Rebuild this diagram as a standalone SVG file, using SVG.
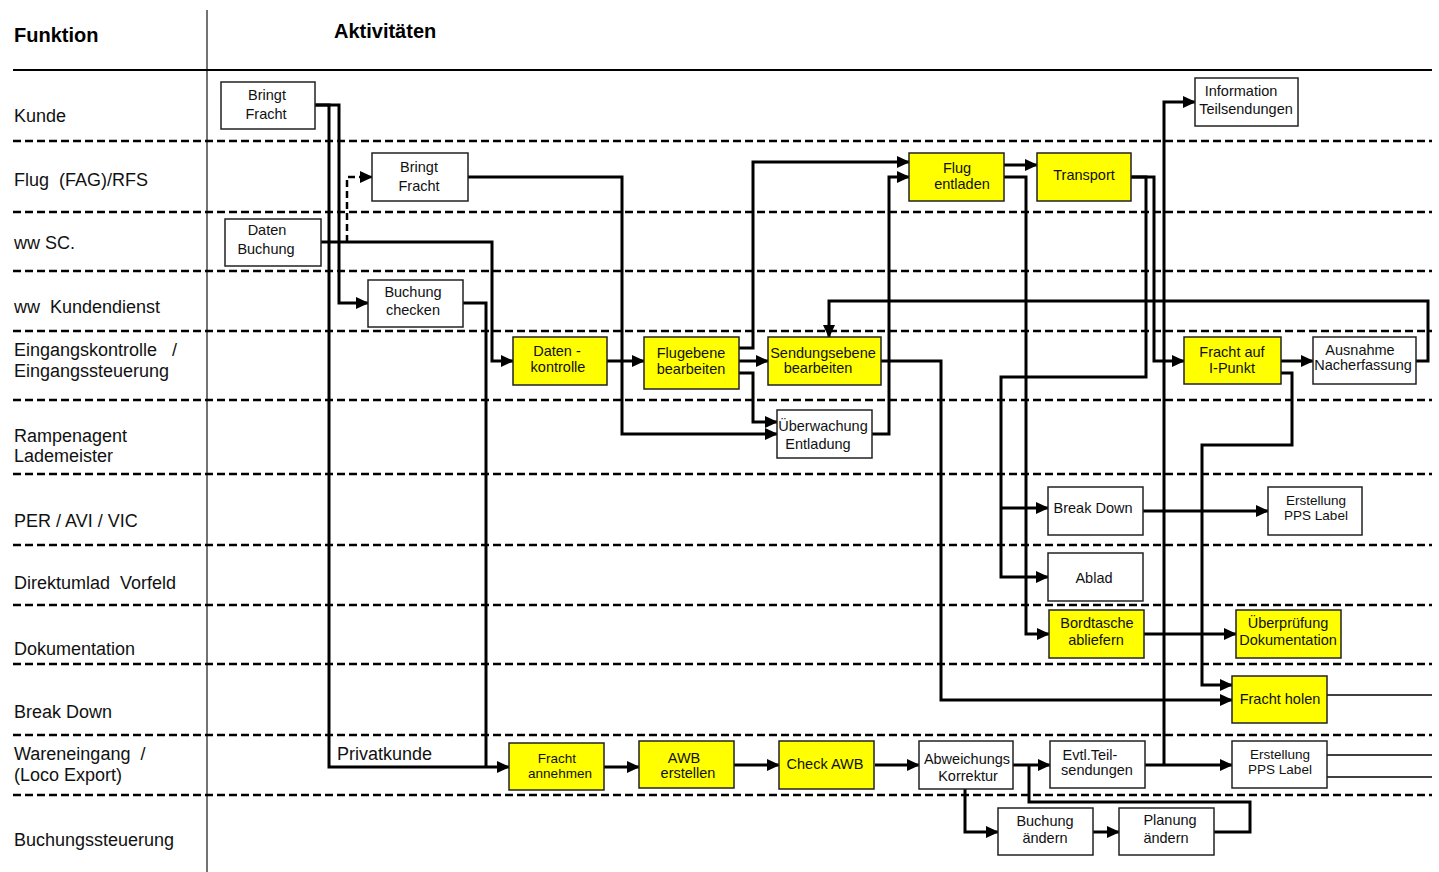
<svg xmlns="http://www.w3.org/2000/svg" width="1439" height="872" viewBox="0 0 1439 872">
<style>
.bg{fill:#fff}
.box{fill:#fff;stroke:#222;stroke-width:1.5}
.y{fill:#ffff00}
.t{font-family:"Liberation Sans",Arial,sans-serif;font-size:14.5px;text-anchor:middle;fill:#111}
.s{font-size:13.5px}
.lane{font-family:"Liberation Sans",Arial,sans-serif;font-size:18px;fill:#111;white-space:pre}
.hd{font-family:"Liberation Sans",Arial,sans-serif;font-size:20px;font-weight:bold;fill:#000}
.dl{stroke:#000;stroke-width:2.5;stroke-dasharray:8 4;fill:none}
.c{fill:none;stroke:#000;stroke-width:3;marker-end:url(#a)}
.cn{fill:none;stroke:#000;stroke-width:3}
.th{fill:none;stroke:#000;stroke-width:1.5}
.cd{fill:none;stroke:#000;stroke-width:2.5;stroke-dasharray:7 4;marker-end:url(#a)}
</style>
<defs>
<marker id="a" viewBox="0 0 13 12" markerWidth="13" markerHeight="12" refX="12" refY="6" orient="auto" markerUnits="userSpaceOnUse">
<path d="M0,0 L13,6 L0,12 Z" fill="#000" stroke="none"/>
</marker>
</defs>
<rect class="bg" x="0" y="0" width="1439" height="872"/>

<g id="lanes">
<line x1="207" y1="10" x2="207" y2="872" stroke="#444" stroke-width="1.5"/>
<line x1="13" y1="70" x2="1432" y2="70" stroke="#000" stroke-width="2"/>
<line class="dl" x1="13" y1="141" x2="1432" y2="141"/>
<line class="dl" x1="13" y1="212" x2="1432" y2="212"/>
<line class="dl" x1="13" y1="271" x2="1432" y2="271"/>
<line class="dl" x1="13" y1="331" x2="1432" y2="331"/>
<line class="dl" x1="13" y1="400" x2="1432" y2="400"/>
<line class="dl" x1="13" y1="474" x2="1432" y2="474"/>
<line class="dl" x1="13" y1="545" x2="1432" y2="545"/>
<line class="dl" x1="13" y1="605" x2="1432" y2="605"/>
<line class="dl" x1="13" y1="664" x2="1432" y2="664"/>
<line class="dl" x1="13" y1="735" x2="1432" y2="735"/>
<line class="dl" x1="13" y1="795" x2="1432" y2="795"/>
<text class="hd" x="14" y="42">Funktion</text>
<text class="hd" x="334" y="38">Aktivitäten</text>
<text class="lane" x="14" y="122">Kunde</text>
<text class="lane" x="14" y="186">Flug  (FAG)/RFS</text>
<text class="lane" x="14" y="249">ww SC.</text>
<text class="lane" x="14" y="313">ww  Kundendienst</text>
<text class="lane" x="14" y="356">Eingangskontrolle   /</text>
<text class="lane" x="14" y="377">Eingangssteuerung</text>
<text class="lane" x="14" y="442">Rampenagent</text>
<text class="lane" x="14" y="462">Lademeister</text>
<text class="lane" x="14" y="527">PER / AVI / VIC</text>
<text class="lane" x="14" y="589">Direktumlad  Vorfeld</text>
<text class="lane" x="14" y="655">Dokumentation</text>
<text class="lane" x="14" y="718">Break Down</text>
<text class="lane" x="14" y="760">Wareneingang  /</text>
<text class="lane" x="14" y="781">(Loco Export)</text>
<text class="lane" x="14" y="846">Buchungssteuerung</text>
<text class="lane" x="337" y="760">Privatkunde</text>
</g>

<g id="connectors">
<path class="c" d="M315,105 H339 V303 H368"/>
<path class="c" d="M315,105 H329 V767 H509"/>
<path class="cn" d="M463,303 H486 V767"/>
<path class="cd" d="M347,242 V177 H372"/>
<path class="c" d="M321,242 H492 V361 H513"/>
<path class="c" d="M468,177 H622 V434 H777"/>
<path class="c" d="M607,361 H644"/>
<path class="c" d="M739,361 H768"/>
<path class="c" d="M739,348 H753 V162 H909"/>
<path class="c" d="M739,373 H753 V422 H777"/>
<path class="c" d="M872,434 H889 V177 H909"/>
<path class="c" d="M881,361 H941 V700 H1232"/>
<path class="c" d="M1004,165 H1037"/>
<path class="c" d="M1004,177 H1026 V634 H1049"/>
<path class="c" d="M1131,177 H1146 V377 H1001 V577 H1048"/>
<path class="c" d="M1001,508 H1048"/>
<path class="c" d="M1131,177 H1154 V361 H1184"/>
<path class="c" d="M1145,765 H1232"/>
<path class="c" d="M1164,765 V102 H1195"/>
<path class="c" d="M1281,361 H1313"/>
<path class="c" d="M1416,361 H1428 V301 H829 V337"/>
<path class="c" d="M1281,373 H1292 V445 H1202 V685 H1232"/>
<path class="c" d="M1143,511 H1268"/>
<path class="c" d="M1144,634 H1236"/>
<path class="th" d="M1327,695 H1432"/>
<path class="th" d="M1327,755 H1432"/>
<path class="th" d="M1327,777 H1432"/>
<path class="c" d="M604,767 H639"/>
<path class="c" d="M734,765 H779"/>
<path class="c" d="M875,765 H919"/>
<path class="c" d="M1013,765 H1050"/>
<path class="cn" d="M1214,832 H1250 V802 H1029 V765"/>
<path class="c" d="M965,788 V832 H998"/>
<path class="c" d="M1093,832 H1119"/>
</g>

<g id="n-bringt-kunde"><rect class="box" x="221" y="82" width="94" height="47"/><text class="t" x="267" y="100">Bringt</text><text class="t" x="266" y="119">Fracht</text></g>
<g id="n-bringt-flug"><rect class="box" x="372" y="153" width="96" height="48"/><text class="t" x="419" y="172">Bringt</text><text class="t" x="419" y="191">Fracht</text></g>
<g id="n-daten-buchung"><rect class="box" x="225" y="219" width="96" height="47"/><text class="t" x="267" y="235">Daten</text><text class="t" x="266" y="254">Buchung</text></g>
<g id="n-buchung-checken"><rect class="box" x="368" y="280" width="95" height="47"/><text class="t" x="413" y="297">Buchung</text><text class="t" x="413" y="315">checken</text></g>
<g id="n-datenkontrolle"><rect class="box y" x="513" y="337" width="94" height="48"/><text class="t" x="557" y="356">Daten -</text><text class="t" x="558" y="372">kontrolle</text></g>
<g id="n-flugebene"><rect class="box y" x="644" y="337" width="95" height="52"/><text class="t" x="691" y="358">Flugebene</text><text class="t" x="691" y="374">bearbeiten</text></g>
<g id="n-sendungsebene"><rect class="box y" x="768" y="337" width="113" height="48"/><text class="t" x="823" y="358">Sendungsebene</text><text class="t" x="818" y="373">bearbeiten</text></g>
<g id="n-ueberwachung"><rect class="box" x="777" y="410" width="95" height="48"/><text class="t" x="823" y="431">Überwachung</text><text class="t" x="818" y="449">Entladung</text></g>
<g id="n-flug-entladen"><rect class="box y" x="909" y="153" width="95" height="48"/><text class="t" x="957" y="173">Flug</text><text class="t" x="962" y="189">entladen</text></g>
<g id="n-transport"><rect class="box y" x="1037" y="153" width="94" height="48"/><text class="t" x="1084" y="180">Transport</text></g>
<g id="n-information"><rect class="box" x="1195" y="78" width="103" height="48"/><text class="t" x="1241" y="96">Information</text><text class="t" x="1246" y="114">Teilsendungen</text></g>
<g id="n-fracht-ipunkt"><rect class="box y" x="1184" y="337" width="97" height="47"/><text class="t" x="1232" y="357">Fracht auf</text><text class="t" x="1232" y="373">I-Punkt</text></g>
<g id="n-ausnahme"><rect class="box" x="1313" y="337" width="103" height="47"/><text class="t" x="1360" y="355">Ausnahme</text><text class="t" x="1363" y="370">Nacherfassung</text></g>
<g id="n-breakdown"><rect class="box" x="1048" y="487" width="95" height="48"/><text class="t" x="1093" y="513">Break Down</text></g>
<g id="n-pps-top"><rect class="box" x="1268" y="487" width="94" height="48"/><text class="t s" x="1316" y="505">Erstellung</text><text class="t s" x="1316" y="520">PPS Label</text></g>
<g id="n-ablad"><rect class="box" x="1048" y="553" width="95" height="48"/><text class="t" x="1094" y="583">Ablad</text></g>
<g id="n-bordtasche"><rect class="box y" x="1049" y="610" width="95" height="48"/><text class="t" x="1097" y="628">Bordtasche</text><text class="t" x="1096" y="645">abliefern</text></g>
<g id="n-ueberpruefung"><rect class="box y" x="1236" y="610" width="105" height="48"/><text class="t" x="1288" y="628">Überprüfung</text><text class="t" x="1288" y="645">Dokumentation</text></g>
<g id="n-fracht-holen"><rect class="box y" x="1232" y="676" width="95" height="47"/><text class="t" x="1280" y="704">Fracht holen</text></g>
<g id="n-fracht-annehmen"><rect class="box y" x="509" y="743" width="95" height="47"/><text class="t s" x="557" y="763">Fracht</text><text class="t s" x="560" y="778">annehmen</text></g>
<g id="n-awb"><rect class="box y" x="639" y="741" width="95" height="47"/><text class="t" x="684" y="763">AWB</text><text class="t" x="688" y="778">erstellen</text></g>
<g id="n-check-awb"><rect class="box y" x="779" y="741" width="95" height="48"/><text class="t" x="825" y="769">Check AWB</text></g>
<g id="n-abweichung"><rect class="box" x="919" y="741" width="94" height="48"/><text class="t" x="967" y="764">Abweichungs</text><text class="t" x="968" y="781">Korrektur</text></g>
<g id="n-evtl"><rect class="box" x="1050" y="741" width="95" height="47"/><text class="t" x="1090" y="760">Evtl.Teil-</text><text class="t" x="1097" y="775">sendungen</text></g>
<g id="n-pps-bottom"><rect class="box" x="1232" y="741" width="95" height="47"/><text class="t s" x="1280" y="759">Erstellung</text><text class="t s" x="1280" y="774">PPS Label</text></g>
<g id="n-buchung-aendern"><rect class="box" x="998" y="808" width="95" height="47"/><text class="t" x="1045" y="826">Buchung</text><text class="t" x="1045" y="843">ändern</text></g>
<g id="n-planung-aendern"><rect class="box" x="1119" y="808" width="95" height="47"/><text class="t" x="1170" y="825">Planung</text><text class="t" x="1166" y="843">ändern</text></g>
</svg>
